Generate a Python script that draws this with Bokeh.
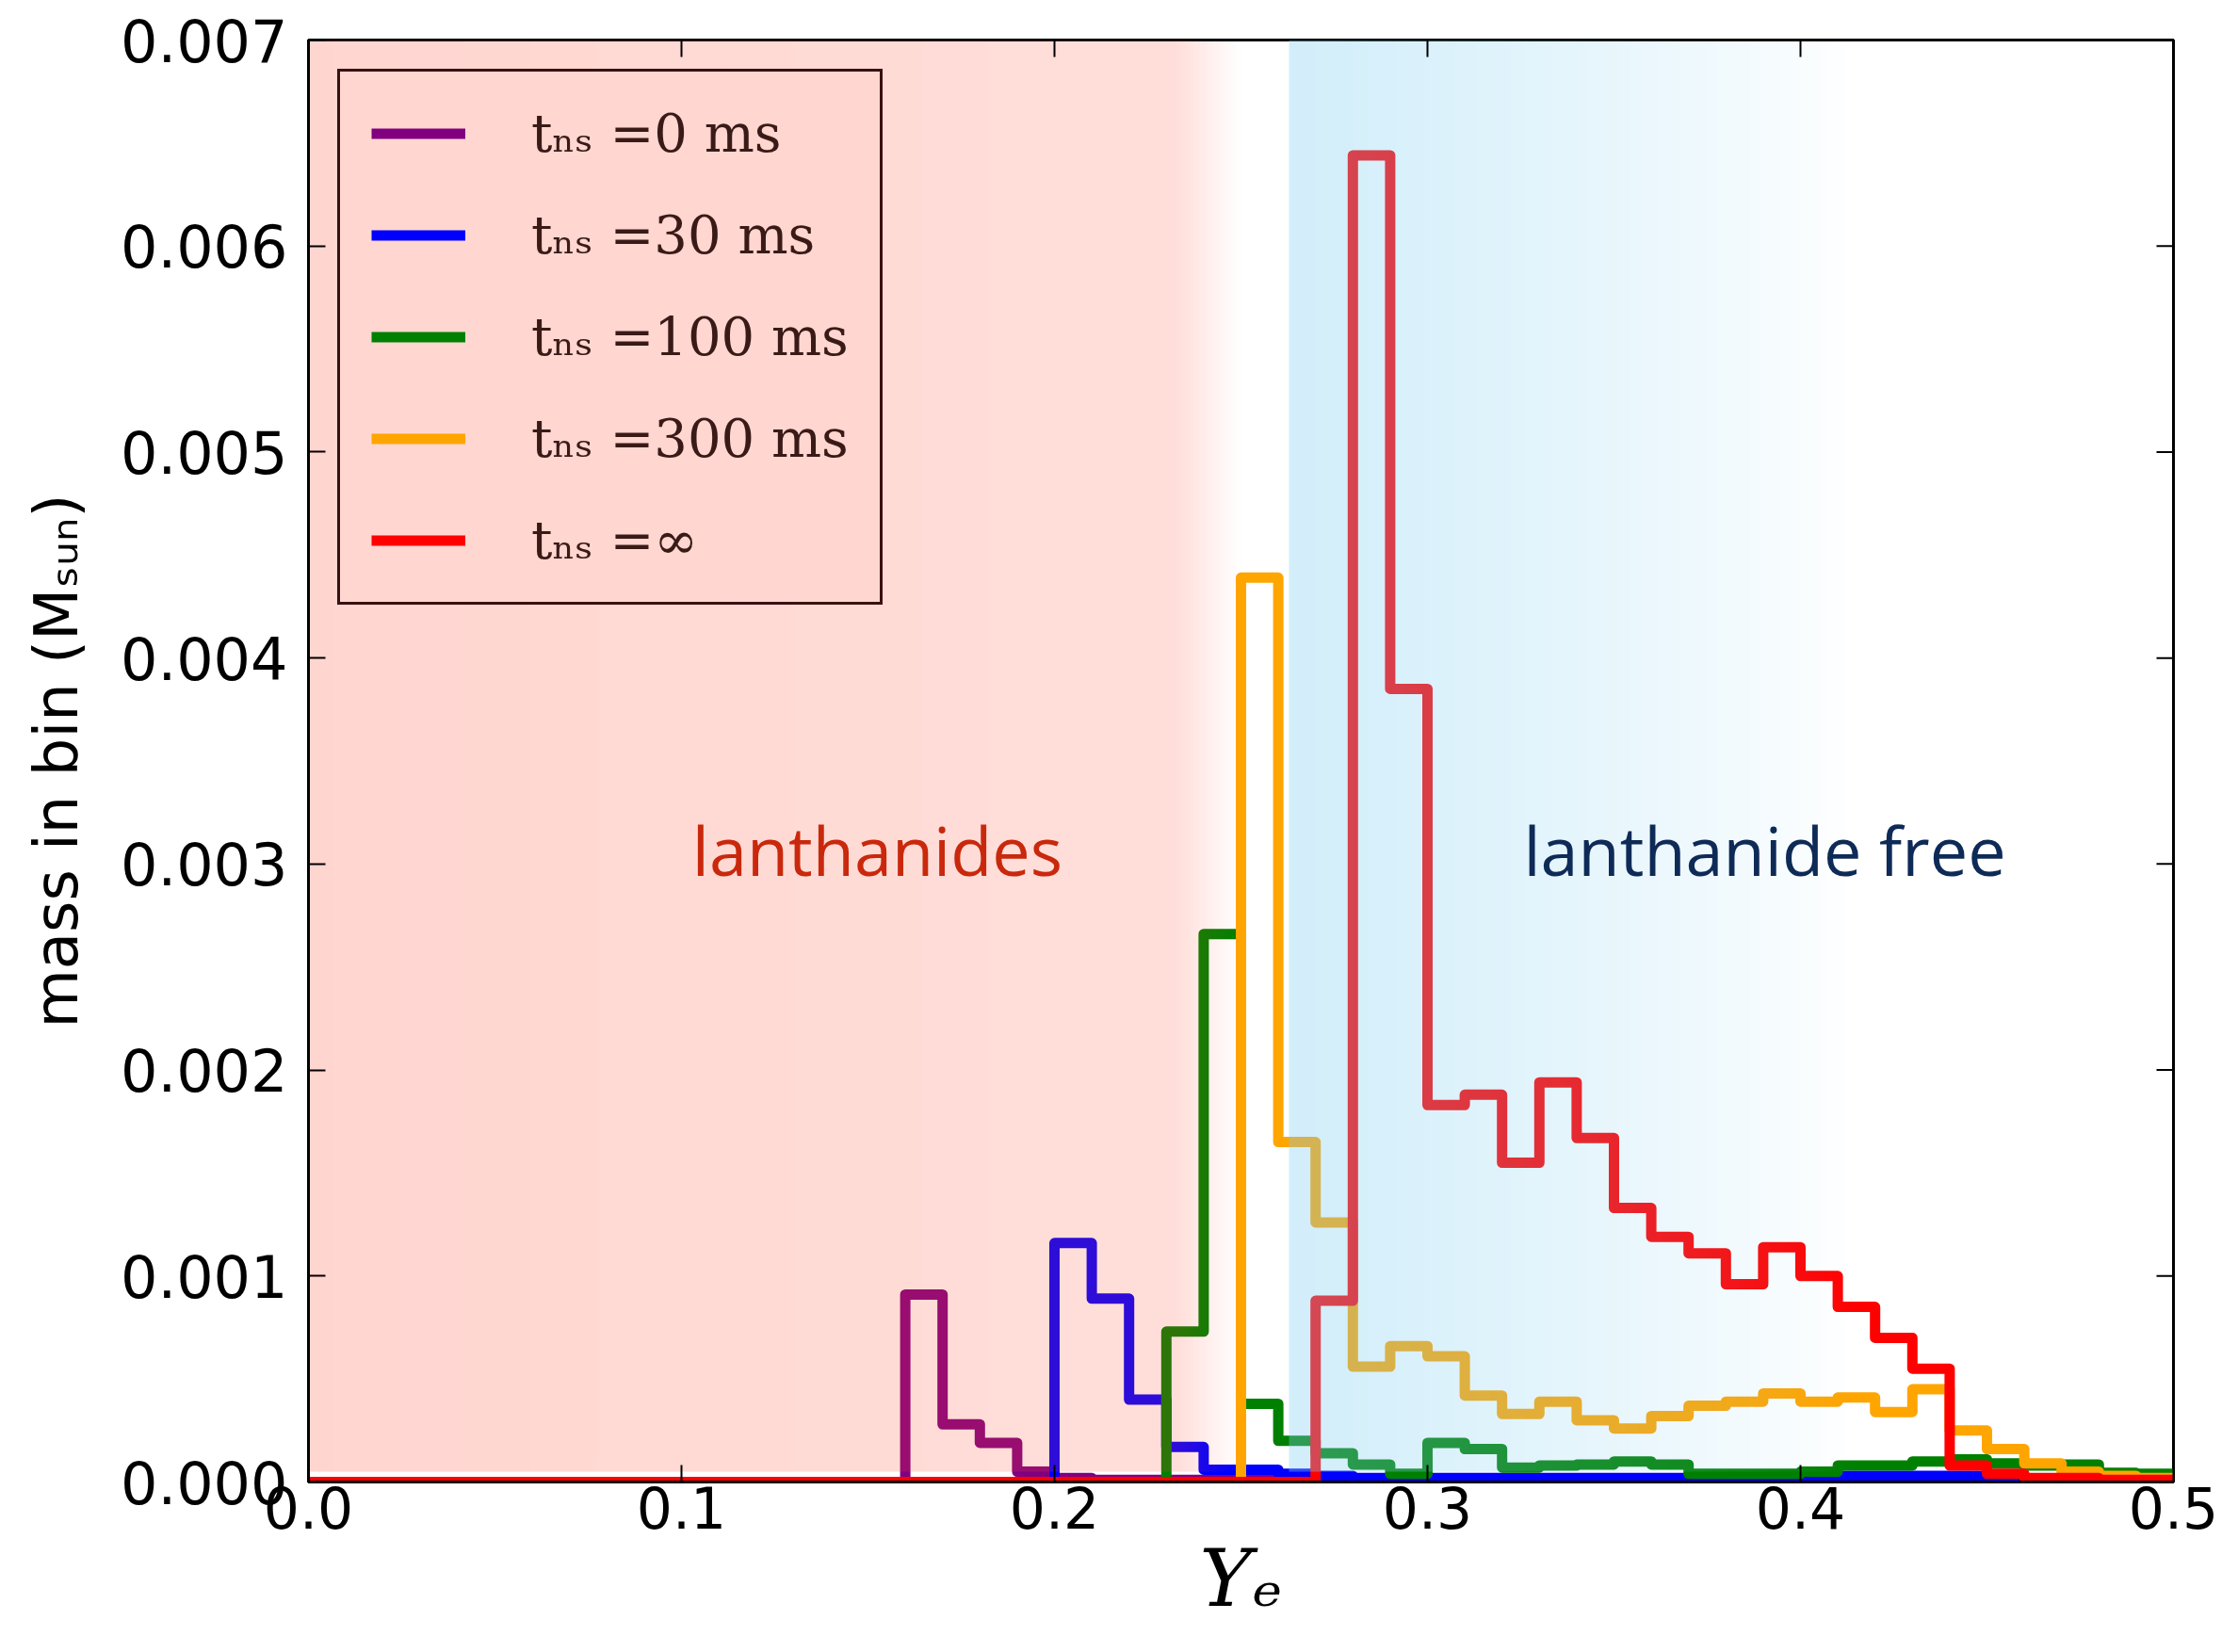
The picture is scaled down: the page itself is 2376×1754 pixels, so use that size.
import numpy as np
from bokeh.plotting import figure
from bokeh.models import Range1d, FixedTicker, Legend, LegendItem
from bokeh.core.properties import value
from bokeh.embed import file_html
from bokeh.resources import INLINE

# ---------------- data ----------------
bin_edges = [round(0.01 * i, 2) for i in range(51)]   # Ye bins, width 0.01

mass_t0 = [0.0] * 16 + [0.00091, 0.00028, 0.00019, 0.00005, 0.00002] + [0.00001] * 11 + [0.0] * 18
mass_t30 = [0.0] * 20 + [0.00116, 0.00089, 0.00040, 0.00017, 0.00006, 0.00006, 0.00004, 0.00003] \
    + [0.00002] * 13 + [0.00003] * 4 + [0.00001] * 5
mass_t100 = [0.0] * 23 + [0.00073, 0.00266, 0.00038, 0.00020, 0.00014, 0.000085, 0.00004, 0.00019,
                          0.00016, 0.00007, 0.00008, 0.000085, 0.00010, 0.000085, 0.00004, 0.00004,
                          0.00004, 0.00005, 0.00008, 0.00008, 0.00010, 0.00011, 0.00009, 0.00008,
                          0.000085, 0.000045, 0.00004]
mass_t300 = [0.0] * 25 + [0.00439, 0.00165, 0.00126, 0.00056, 0.00066, 0.00061, 0.00042, 0.00033,
                          0.00039, 0.00030, 0.00026, 0.00032, 0.00037, 0.00039, 0.00043, 0.00039,
                          0.00041, 0.00034, 0.00045, 0.00025, 0.00016, 0.00009, 0.00005, 0.00003,
                          0.00002]
mass_tinf = [0.0] * 27 + [0.00088, 0.00644, 0.00385, 0.00183, 0.00188, 0.00155, 0.00194, 0.00167,
                          0.00133, 0.00119, 0.00111, 0.00096, 0.00114, 0.00100, 0.00085, 0.00070,
                          0.00055, 0.00008, 0.00004, 0.00002, 0.00002, 0.00001, 0.00001]

series_values = [mass_t0, mass_t30, mass_t100, mass_t300, mass_tinf]
series_labels = ["tₙₛ =0 ms", "tₙₛ =30 ms", "tₙₛ =100 ms", "tₙₛ =300 ms", "tₙₛ =∞"]
series_colors = ["#800080", "#0000FF", "#008000", "#FFA500", "#FF0000"]

x_tick_values = [0.0, 0.1, 0.2, 0.3, 0.4, 0.5]
x_tick_labels = ["0.0", "0.1", "0.2", "0.3", "0.4", "0.5"]
y_tick_values = [0.0, 0.001, 0.002, 0.003, 0.004, 0.005, 0.006, 0.007]
y_tick_labels = ["0.000", "0.001", "0.002", "0.003", "0.004", "0.005", "0.006", "0.007"]

x_axis_title = "Yₑ"
y_axis_title = "mass in bin (Mₛᵤₙ)"
region_texts = ["lanthanides", "lanthanide free"]
region_text_colors = ["#C9280C", "#0E2A57"]

# ---------------- figure ----------------
X_MIN, X_MAX = 0.0, 0.5
Y_MIN, Y_MAX = 0.0, 0.007
FRAME_W, FRAME_H = 1980, 1531
BORDER_L, BORDER_T = 327, 42
FIG_W, FIG_H = 2372, 1750

p = figure(width=FIG_W, height=FIG_H,
           x_range=Range1d(X_MIN, X_MAX), y_range=Range1d(Y_MIN, Y_MAX),
           output_backend="svg", toolbar_location=None,
           min_border_left=BORDER_L, min_border_right=FIG_W - BORDER_L - FRAME_W,
           min_border_top=BORDER_T, min_border_bottom=FIG_H - BORDER_T - FRAME_H,
           background_fill_color="white", border_fill_color="white")
p.grid.visible = False
p.outline_line_color = "black"
p.outline_line_width = 3

TICK_PX = 18


def style_axis(ax, ticks):
    ax.ticker = FixedTicker(ticks=ticks, minor_ticks=[])
    ax.major_tick_in = TICK_PX
    ax.major_tick_out = 0
    ax.minor_tick_in = 0
    ax.minor_tick_out = 0
    ax.major_tick_line_color = "black"
    ax.major_tick_line_width = 2
    ax.axis_line_color = "black"
    ax.axis_line_width = 3


style_axis(p.xaxis[0], x_tick_values)
style_axis(p.yaxis[0], y_tick_values)
p.xaxis.major_label_overrides = dict(zip(x_tick_values, x_tick_labels))
p.yaxis.major_label_overrides = dict(zip(y_tick_values, y_tick_labels))
p.xaxis.major_label_text_font = "DejaVu Sans"
p.yaxis.major_label_text_font = "DejaVu Sans"
p.xaxis.major_label_text_font_size = "60px"
p.yaxis.major_label_text_font_size = "62px"
p.xaxis.major_label_text_color = "black"
p.yaxis.major_label_text_color = "black"
p.xaxis.major_label_standoff = 4
p.yaxis.major_label_standoff = 22

p.xaxis.axis_label = x_axis_title
p.xaxis.axis_label_text_font = "DejaVu Serif"
p.xaxis.axis_label_text_font_style = "italic"
p.xaxis.axis_label_text_font_size = "84px"
p.xaxis.axis_label_text_color = "black"
p.xaxis.axis_label_standoff = 1

p.yaxis.axis_label = y_axis_title
p.yaxis.axis_label_text_font = "DejaVu Sans"
p.yaxis.axis_label_text_font_style = "normal"
p.yaxis.axis_label_text_font_size = "64px"
p.yaxis.axis_label_text_color = "black"
p.yaxis.axis_label_standoff = 28

# ---------------- histograms ----------------
renderers = []
for vals, col in zip(series_values, series_colors):
    yv = list(vals) + [vals[-1]]
    r = p.step(x=bin_edges, y=yv, mode="after", line_color=col, line_width=11,
               line_join="round")
    renderers.append(r)

# ---------------- translucent region overlays (drawn over the lines) ----------------
PINK_RGB = (255, 70, 44)
PINK_ALPHA_LEFT, PINK_ALPHA_RIGHT = 0.227, 0.175
PINK_SOLID_END, PINK_END = 0.233, 0.25
BLUE_RGB = (129, 207, 241)
BLUE_ALPHA = 0.36
BLUE_START, BLUE_END = 0.263, 0.414
BLUE_FADE_POWER = 0.8
OVERLAY_BOTTOM = 0.00005

N = 1000
xs = X_MIN + (np.arange(N) + 0.5) / N * (X_MAX - X_MIN)
rgba = np.zeros((1, N, 4), dtype=np.uint8)
alpha = np.zeros(N)
m1 = xs < PINK_SOLID_END
alpha[m1] = PINK_ALPHA_LEFT + (PINK_ALPHA_RIGHT - PINK_ALPHA_LEFT) * (xs[m1] - X_MIN) / (PINK_SOLID_END - X_MIN)
m2 = (xs >= PINK_SOLID_END) & (xs < PINK_END)
alpha[m2] = PINK_ALPHA_RIGHT * (PINK_END - xs[m2]) / (PINK_END - PINK_SOLID_END)
mp = xs < PINK_END
rgba[0, mp, 0], rgba[0, mp, 1], rgba[0, mp, 2] = PINK_RGB
mb = (xs >= BLUE_START) & (xs < BLUE_END)
alpha[mb] = BLUE_ALPHA * ((BLUE_END - xs[mb]) / (BLUE_END - BLUE_START)) ** BLUE_FADE_POWER
rgba[0, mb, 0], rgba[0, mb, 1], rgba[0, mb, 2] = BLUE_RGB
rgba[0, :, 3] = np.round(alpha * 255).astype(np.uint8)
img = rgba.view(dtype=np.uint32).reshape((1, N))
p.image_rgba(image=[img], x=X_MIN, y=OVERLAY_BOTTOM, dw=X_MAX - X_MIN, dh=Y_MAX - OVERLAY_BOTTOM)

# ---------------- mirrored inward ticks on top and right ----------------
tick_dx = TICK_PX * (X_MAX - X_MIN) / FRAME_W
tick_dy = TICK_PX * (Y_MAX - Y_MIN) / FRAME_H
top_x = x_tick_values[1:-1]
p.segment(x0=top_x, x1=top_x, y0=[Y_MAX] * len(top_x), y1=[Y_MAX - tick_dy] * len(top_x),
          line_color="black", line_width=2)
right_y = y_tick_values[1:-1]
p.segment(x0=[X_MAX] * len(right_y), x1=[X_MAX - tick_dx] * len(right_y), y0=right_y, y1=right_y,
          line_color="black", line_width=2)

# ---------------- region labels ----------------
p.text(x=[0.1525, 0.3904], y=[0.00307, 0.00307], text=region_texts,
       text_color=region_text_colors, text_font=value("Open Sans"), text_font_size="72px",
       text_align="center", text_baseline="alphabetic")

# ---------------- legend (tinted like the pink overlay it sits under) ----------------
legend = Legend(items=[LegendItem(label=l, renderers=[r]) for l, r in zip(series_labels, renderers)],
                location="top_left", margin=31, padding=33,
                spacing=43, label_height=65, glyph_height=65, glyph_width=100, label_standoff=70,
                label_text_font="DejaVu Serif", label_text_font_size="56px", label_text_color="#3A1A17",
                border_line_color="#3A1010", border_line_width=3, border_line_alpha=1.0,
                background_fill_color="#FFD6D0", background_fill_alpha=1.0)
p.add_layout(legend, "center")

open("out.html", "w").write(file_html(p, INLINE))
